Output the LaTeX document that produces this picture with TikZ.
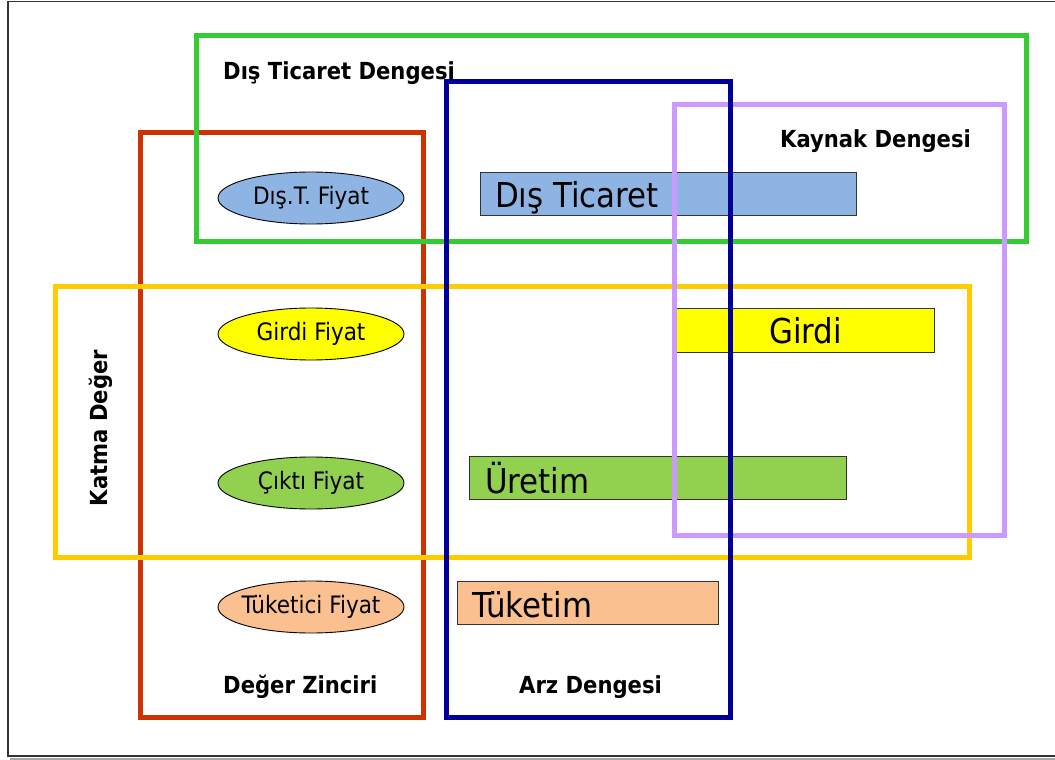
\documentclass[tikz,border=0pt]{standalone}
\usepackage{fontspec}
\setmainfont{DejaVu Sans Condensed}
\usetikzlibrary{shapes.geometric}
\definecolor{cgreen}{HTML}{33CC33}
\definecolor{cblue}{HTML}{000099}
\definecolor{cpurple}{HTML}{CC99FF}
\definecolor{cred}{HTML}{CC3300}
\definecolor{cyellow}{HTML}{FFCC00}
\definecolor{fblue}{HTML}{8EB4E3}
\definecolor{fyellow}{HTML}{FFFF00}
\definecolor{fgreen}{HTML}{92D050}
\definecolor{forange}{HTML}{FAC090}
\definecolor{cframe}{HTML}{333333}
\begin{document}
\begin{tikzpicture}[x=1pt,y=-1pt,
  frameline/.style={line width=5pt},
  oval/.style={ellipse,draw=black,line width=0.9pt,minimum width=186pt,minimum height=52pt,inner sep=0pt},
  ovaltext/.style={inner sep=0pt,font=\fontsize{24}{27}\selectfont},
  bar/.style={draw=black!80,line width=1pt,anchor=north west,inner sep=0pt},
  bartext/.style={anchor=base west,inner sep=0pt,font=\fontsize{34.3}{38}\selectfont},
  title/.style={font=\bfseries\fontsize{23.5}{26}\selectfont,inner sep=0pt}]
\useasboundingbox (0,0) rectangle (1055,760);
% outer frame
\draw[gray!70,line width=2pt] (10,758.5) -- (1056,758.5);
\draw[cframe,line width=1.5pt] (1056,1.5) -- (8,1.5) -- (8,756) -- (1056,756);
% bars
\node[bar,fill=fblue,minimum width=376pt,minimum height=43pt] (bdis) at (480,172) {};
\node[bar,fill=fyellow,minimum width=258pt,minimum height=44pt] (bgirdi) at (676,308) {};
\node[bar,fill=fgreen,minimum width=377pt,minimum height=43pt] (buretim) at (469,456) {};
\node[bar,fill=forange,minimum width=261pt,minimum height=43pt] (btuketim) at (457,581) {};
\node[bartext] (tdis) at (495,207) {Dış Ticaret};
\node[bartext] (tgirdi) at (769,343) {Girdi};
\node[bartext] (turetim) at (485,493) {Üretim};
\node[bartext] (ttuketim) at (472,617) {Tüketim};
% ellipses
\node[oval,fill=fblue] (edis) at (311,198) {};
\node[oval,fill=fyellow] (egirdi) at (311,334) {};
\node[oval,fill=fgreen] (ecikti) at (311,483) {};
\node[oval,fill=forange] (etuketici) at (311,607) {};
\node[ovaltext] (tedis) at (edis.center) {Dış.T. Fiyat};
\node[ovaltext] (tegirdi) at (egirdi.center) {Girdi Fiyat};
\node[ovaltext] (tecikti) at (ecikti.center) {Çıktı Fiyat};
\node[ovaltext] (tetuketici) at (etuketici.center) {Tüketici Fiyat};
% region frames
\draw[frameline,cred] (140,132) rectangle (423,717);
\draw[frameline,cgreen] (196,36) rectangle (1026,241);
\draw[frameline,cyellow] (55.5,286.5) rectangle (969,557);
\draw[frameline,cpurple] (674,104) rectangle (1004,535);
\draw[frameline,cblue] (446,82) rectangle (730,717);
% titles
\node[title,anchor=base west] (tdtd) at (223,79) {Dış Ticaret Dengesi};
\node[title,anchor=base west] (tkd) at (780,147) {Kaynak Dengesi};
\node[title,rotate=90] (tkatma) at (101,428) {Katma Değer};
\node[title,anchor=base west] (tdz) at (223,693) {Değer Zinciri};
\node[title,anchor=base west] (tarz) at (519,693) {Arz Dengesi};
\end{tikzpicture}
\end{document}
